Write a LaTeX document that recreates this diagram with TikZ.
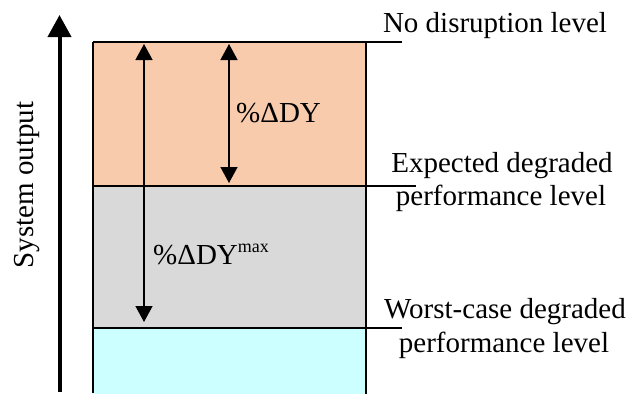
\documentclass[tikz,border=0pt]{standalone}
\usepackage{fontspec}
\setmainfont{Liberation Serif}
\usetikzlibrary{arrows.meta}
\definecolor{peach}{HTML}{F8CBAD}
\definecolor{greyband}{HTML}{D9D9D9}
\definecolor{cyanband}{HTML}{CCFFFF}
\tikzset{
  lbl/.style={inner sep=0pt, anchor=base, font=\fontsize{29}{33}\selectfont},
  lvl/.style={line width=1.5pt},
  dim/.style={line width=1.4pt, {Triangle[width=17pt,length=16pt]}-{Triangle[width=17pt,length=16pt]}},
  axis/.style={line width=4pt, -{Triangle[width=23pt,length=22pt]}}
}
\begin{document}
\begin{tikzpicture}[x=1pt,y=-1pt]
\useasboundingbox (0,0) rectangle (627,394);
% bands
\fill[peach] (93,42) rectangle (366,186);
\fill[greyband] (93,186) rectangle (366,328);
\fill[cyanband] (93,328) rectangle (366,394);
% outline
\draw[lvl] (93,42) -- (93,393);
\draw[lvl] (366,42) -- (366,394);
\coordinate (topL) at (93,42);   \coordinate (topR) at (402,42);
\coordinate (midL) at (93,186);  \coordinate (midR) at (416,186);
\coordinate (botL) at (93,328);  \coordinate (botR) at (402,328);
\draw[lvl] (topL) -- (topR);
\draw[lvl] (midL) -- (midR);
\draw[lvl] (botL) -- (botR);
% axis
\coordinate (axB) at (59.5,392);
\coordinate (axT) at (59.5,15);
\draw[axis] (axB) -- (axT);
\node[lbl, rotate=90] (sysout) at (33,185) {System output};
% dimension arrows
\coordinate (sA) at (229,44);  \coordinate (sB) at (229,183);
\coordinate (lA) at (144,44);  \coordinate (lB) at (144,322);
\draw[dim] (sA) -- (sB);
\draw[dim] (lA) -- (lB);
\node[lbl, anchor=base west] (dy) at (236,122) {\%ΔDY};
\node[lbl, anchor=base west] (dymax) at (153,264) {\%ΔDY\raisebox{12pt}{\fontsize{18}{18}\selectfont max}};
% level labels
\node[lbl] (nodis) at (495,32) {No disruption level};
\node[lbl] (exp1) at (502,172) {Expected degraded};
\node[lbl] (exp2) at (501,205) {performance level};
\node[lbl] (wc1) at (505,318) {Worst-case degraded};
\node[lbl] (wc2) at (504,352) {performance level};
\end{tikzpicture}
\end{document}
